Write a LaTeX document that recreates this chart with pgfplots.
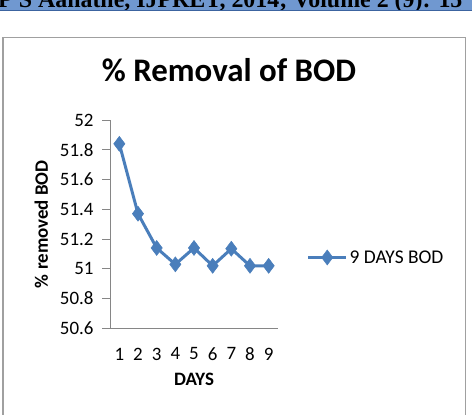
\documentclass[border=0pt]{standalone}
\usepackage{pgfplots}
\pgfplotsset{compat=1.18}
\usepackage{fontspec}
\setmainfont{Carlito}
\newfontfamily\headfont{Liberation Serif}

\definecolor{seriesblue}{RGB}{74,126,187}
\definecolor{framegray}{RGB}{160,160,160}
\definecolor{axisgray}{RGB}{134,134,134}
\definecolor{bandblue}{RGB}{112,152,208}
\definecolor{banddark}{RGB}{60,100,160}

\begin{document}
\begin{tikzpicture}[x=1bp,y=1bp]
  % page area
  \path[use as bounding box] (0,0) rectangle (472,414);
  % running header band of the page
  \begin{scope}
    \clip (0,404) rectangle (472,414);
    \fill[bandblue] (0,404) rectangle (472,414);
    \node[anchor=base west, inner sep=0pt, font=\headfont\bfseries\fontsize{24}{26}\selectfont]
      at (-2,406) {P S Aanathe, IJPRET, 2014; Volume 2 (9): 15};
  \end{scope}
  \draw[banddark, line width=1pt] (0,403.5) -- (472,403.5);
  % chart frame
  \draw[framegray, line width=1.2pt] (3,-5) rectangle (465.5,376.5);
  % title
  \node[font=\bfseries\fontsize{33}{36}\selectfont] at (229,344) {\% Removal of BOD};

  \begin{axis}[
    at={(110bp,85.7bp)}, anchor=south west,
    scale only axis, width=168bp, height=208.3bp,
    xmin=0.5, xmax=9.5, ymin=50.6, ymax=52,
    axis lines*=left,
    axis line style={axisgray, line width=0.8pt},
    xtick={1,...,9}, xtick style={draw=none},
    ytick={50.6,50.8,...,52.01},
    ytick style={axisgray, line width=0.8pt},
    tick align=outside, major tick length=8bp,
    yticklabel style={/pgf/number format/fixed, /pgf/number format/precision=1},
    /pgf/number format/assume math mode=true,
    tick label style={font=\fontsize{19}{21}\selectfont},
    xticklabel style={yshift=-8bp},
    yticklabel style={xshift=-5bp},
    xlabel={DAYS}, ylabel={\% removed BOD},
    label style={font=\bfseries\fontsize{19}{21}\selectfont},
    xlabel style={yshift=-5bp},
    ylabel style={yshift=5bp},
    legend style={at={(1.17,0.34)}, anchor=west, draw=none, fill=none,
      font=\fontsize{19.5}{21}\selectfont, inner sep=0pt,
      legend cell align=left},
    legend image code/.code={
      \draw[mark repeat=2, mark phase=2, #1]
        plot coordinates {(0bp,0bp) (19bp,0bp) (38bp,0bp)};},
    clip=false,
  ]
    \addplot[seriesblue, line width=3pt, mark=diamond*,
      mark size=7.5bp, mark options={solid, line width=0.5pt}]
      coordinates {
        (1,51.84) (2,51.37) (3,51.14) (4,51.03) (5,51.14)
        (6,51.02) (7,51.135) (8,51.02) (9,51.02)
      };
    \addlegendentry{9 DAYS BOD}
  \end{axis}
\end{tikzpicture}
\end{document}
